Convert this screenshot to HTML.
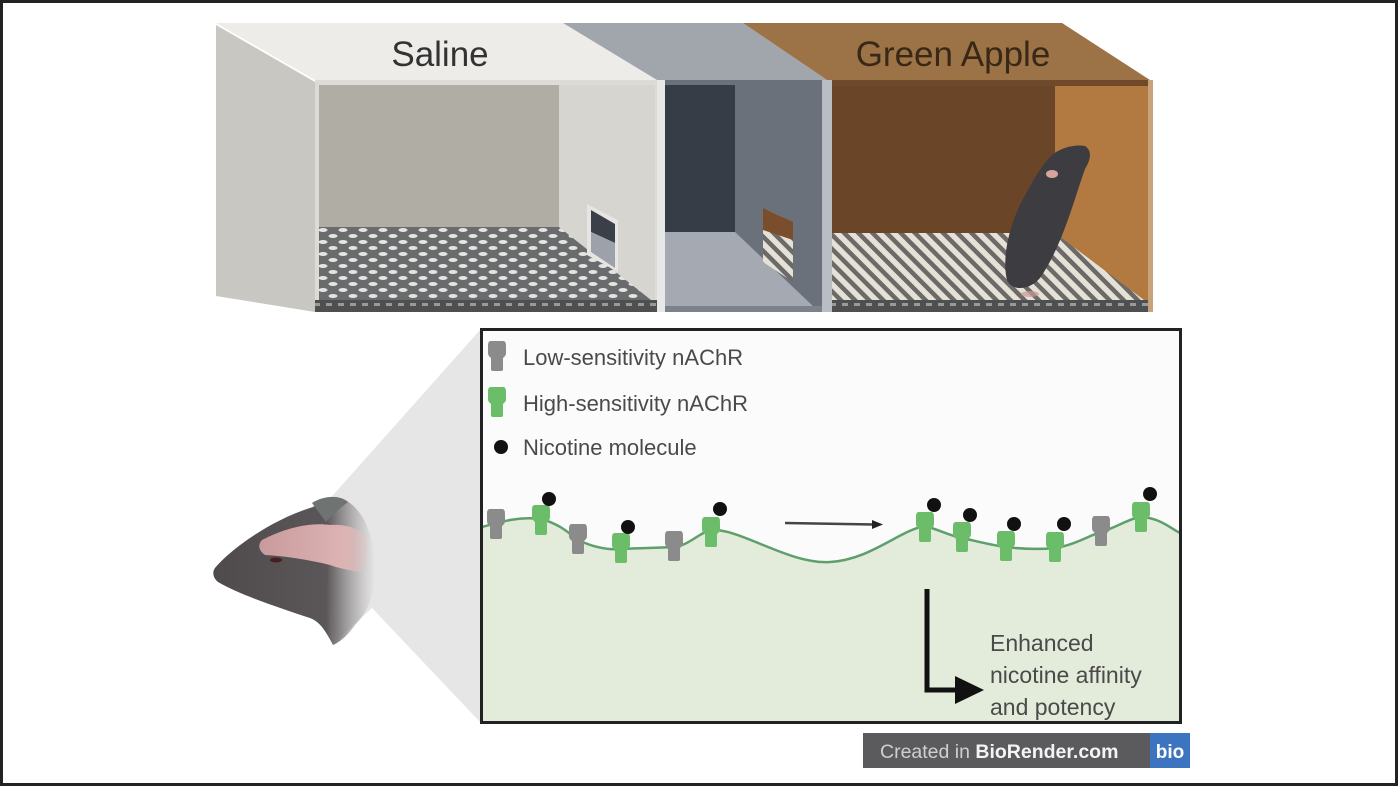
<!DOCTYPE html>
<html>
<head>
<meta charset="utf-8">
<style>
html,body{margin:0;padding:0;background:#fff;}
svg{display:block;}
text{font-family:"Liberation Sans",Arial,sans-serif;}
</style>
</head>
<body>
<svg width="1400" height="788" viewBox="0 0 1400 788" xmlns="http://www.w3.org/2000/svg">
<defs>
  <pattern id="dots" x="318" y="227" width="20" height="12" patternUnits="userSpaceOnUse">
    <rect width="20" height="12" fill="#6a6b6c"/>
    <ellipse cx="5" cy="3" rx="4.5" ry="2" fill="#e4e4e2"/>
    <ellipse cx="15" cy="9" rx="4.5" ry="2" fill="#e4e4e2"/>
  </pattern>
  <pattern id="stripes" x="0" y="0" width="10" height="10" patternUnits="userSpaceOnUse" patternTransform="rotate(-45)">
    <rect width="10" height="10" fill="#e6e1d6"/>
    <rect width="4.5" height="10" fill="#6c6a68"/>
  </pattern>
  <pattern id="checker" x="0" y="300" width="12" height="12" patternUnits="userSpaceOnUse">
    <rect width="12" height="12" fill="#4e4f51"/>
    <rect x="2" y="3" width="6" height="3" fill="#9a9a98"/>
  </pattern>
  <linearGradient id="fadeHead" x1="0" y1="0" x2="1" y2="0">
    <stop offset="0" stop-color="#4f4a4c"/>
    <stop offset="0.7" stop-color="#5b5658"/>
    <stop offset="1" stop-color="#8a8688" stop-opacity="0"/>
  </linearGradient>
  <linearGradient id="pinkFade" x1="0" y1="0" x2="1" y2="0">
    <stop offset="0" stop-color="#c99a9c"/>
    <stop offset="0.8" stop-color="#ddb4b4"/>
    <stop offset="1" stop-color="#e8c6c6" stop-opacity="0.3"/>
  </linearGradient>
  <g id="rec">
    <path d="M-6,-15 C-9,-15 -9,-12 -9,-9 L-9,-3 C-9,0 -7,1 -6,2 L-6,13 C-6,15 -5,15 -3,15 L3,15 C5,15 6,15 6,13 L6,2 C7,1 9,0 9,-3 L9,-9 C9,-12 9,-15 6,-15 Z"/>
  </g>
</defs>

<rect x="0" y="0" width="1400" height="788" fill="#fff"/>

<!-- ================= CHAMBER ================= -->
<polygon points="216,25 315,82 315,312 216,296" fill="#c8c7c2"/>
<polygon points="216,23 563,23 657,80 315,80" fill="#edece8"/>
<polygon points="563,23 743,23 827,80 657,80" fill="#a1a5ac"/>
<polygon points="743,23 1062,23 1150,80 827,80" fill="#9c7247"/>
<polygon points="827,80 1150,80 1150,86 832,86" fill="#6e4a2a"/>

<rect x="315" y="80" width="343" height="232" fill="#dcdbd6"/>
<rect x="319" y="85" width="240" height="142" fill="#b0ada5"/>
<polygon points="559,85 655,85 655,303 559,227" fill="#d7d5d0"/>
<polygon points="319,227 559,227 651,300 319,300" fill="url(#dots)"/>
<rect x="315" y="300" width="342" height="12" fill="url(#checker)"/>
<polygon points="587,204 618,220 618,272 587,255" fill="#e6e5e1"/>
<polygon points="591,210 615,224 615,243 591,232" fill="#3a3f48"/>
<polygon points="591,232 615,243 615,268 591,252" fill="#9da1a9"/>

<rect x="657" y="80" width="8" height="232" fill="#e8e8e6"/>
<rect x="665" y="80" width="160" height="232" fill="#6b717a"/>
<rect x="665" y="85" width="70" height="147" fill="#373d47"/>
<polygon points="665,232 735,232 815,308 665,308" fill="#a5a9b1"/>
<rect x="665" y="306" width="160" height="6" fill="#7d828a"/>
<polygon points="763,208 793,222 793,282 763,262" fill="url(#stripes)"/>
<polygon points="763,208 793,222 793,240 763,230" fill="#7a4e2c"/>
<rect x="822" y="80" width="10" height="232" fill="#b9bdc4"/>

<rect x="832" y="86" width="318" height="226" fill="#b27a40"/>
<rect x="832" y="86" width="223" height="147" fill="#6a4527"/>
<polygon points="832,233 1055,233 1148,303 832,303" fill="url(#stripes)"/>
<rect x="832" y="300" width="320" height="12" fill="url(#checker)"/>
<rect x="1148" y="80" width="5" height="232" fill="#c7a27a"/>
<!-- mouse -->
<path d="M1007,280 C1002,260 1008,230 1020,205 C1030,185 1040,168 1050,157 C1058,149 1072,144 1085,146 C1093,151 1090,161 1085,169 C1081,180 1077,193 1073,205 C1064,232 1054,258 1040,278 C1030,290 1012,292 1007,280Z" fill="#3c3c41"/>
<ellipse cx="1052" cy="174" rx="6" ry="4" fill="#d8a4a0"/>
<ellipse cx="1030" cy="294" rx="9" ry="3" fill="#c99a98" opacity="0.7"/>

<!-- ================= LOWER ================= -->
<polygon points="318,512 480,330 480,722 372,608 335,642" fill="#e6e6e6"/>

<!-- mouse head -->
<path d="M215,568 C230,550 270,520 313,507 C325,498 340,496 350,503 C362,512 372,530 375,560 C376,590 370,610 355,625 C348,635 340,642 333,645 C325,630 320,622 310,618 C280,608 240,595 218,582 C213,578 212,572 215,568Z" fill="url(#fadeHead)"/>
<path d="M312,503 C322,496 340,494 348,502 C340,508 332,515 326,522 C320,514 316,508 312,503Z" fill="#6f7472"/>
<path d="M262,540 C285,528 310,522 330,525 C345,524 358,528 365,535 C370,550 368,565 360,572 C348,570 338,568 330,565 C310,560 285,556 265,555 C258,550 258,544 262,540Z" fill="url(#pinkFade)"/>
<ellipse cx="276" cy="560" rx="6" ry="2.5" fill="#4a1e1e"/>

<!-- main box -->
<rect x="481.5" y="329.5" width="699" height="393" fill="#fbfbfb"/>
<path d="M482,527 C500,522 520,516 541,519 C560,524 570,534 578,540 C595,548 610,550 621,549 C640,548 655,548 674,547 C690,545 700,532 711,530 C740,528 790,565 830,562 C870,560 900,530 925,526 C940,530 950,536 962,538 C980,542 995,546 1006,547 C1030,550 1045,549 1055,548 C1075,545 1090,535 1101,532 C1115,528 1130,518 1141,517 C1160,518 1170,528 1180,533 L1180,722 L482,722 Z" fill="#e3ecda"/>
<path d="M482,527 C500,522 520,516 541,519 C560,524 570,534 578,540 C595,548 610,550 621,549 C640,548 655,548 674,547 C690,545 700,532 711,530 C740,528 790,565 830,562 C870,560 900,530 925,526 C940,530 950,536 962,538 C980,542 995,546 1006,547 C1030,550 1045,549 1055,548 C1075,545 1090,535 1101,532 C1115,528 1130,518 1141,517 C1160,518 1170,528 1180,533" fill="none" stroke="#5f9f6c" stroke-width="2.5"/>
<rect x="481.5" y="329.5" width="699" height="393" fill="none" stroke="#222" stroke-width="3"/>

<!-- legend -->
<use href="#rec" x="497" y="356" fill="#8b8b8b"/>
<use href="#rec" x="497" y="402" fill="#6cbd6a"/>
<circle cx="501" cy="447" r="7" fill="#111"/>
<text x="523" y="365" font-size="22" fill="#4a4a4a">Low-sensitivity nAChR</text>
<text x="523" y="411" font-size="22" fill="#4a4a4a">High-sensitivity nAChR</text>
<text x="523" y="455" font-size="22" fill="#4a4a4a">Nicotine molecule</text>

<g fill="#8b8b8b">
  <use href="#rec" x="496" y="524"/>
  <use href="#rec" x="578" y="539"/>
  <use href="#rec" x="674" y="546"/>
  <use href="#rec" x="1101" y="531"/>
</g>
<g fill="#6cbd6a">
  <use href="#rec" x="541" y="520"/>
  <use href="#rec" x="621" y="548"/>
  <use href="#rec" x="711" y="532"/>
  <use href="#rec" x="925" y="527"/>
  <use href="#rec" x="962" y="537"/>
  <use href="#rec" x="1006" y="546"/>
  <use href="#rec" x="1055" y="547"/>
  <use href="#rec" x="1141" y="517"/>
</g>
<g fill="#111">
  <circle cx="549" cy="499" r="7"/>
  <circle cx="628" cy="527" r="7"/>
  <circle cx="720" cy="509" r="7"/>
  <circle cx="934" cy="505" r="7"/>
  <circle cx="970" cy="515" r="7"/>
  <circle cx="1014" cy="524" r="7"/>
  <circle cx="1064" cy="524" r="7"/>
  <circle cx="1150" cy="494" r="7"/>
</g>

<line x1="785" y1="523" x2="874" y2="524.5" stroke="#444" stroke-width="2.5"/>
<polygon points="872,520 883,524.5 872,529" fill="#222"/>

<path d="M927,589 L927,690 L962,690" fill="none" stroke="#111" stroke-width="5"/>
<polygon points="955,676 984,690 955,704" fill="#111"/>
<text x="990" y="651" font-size="23" fill="#4a4a4a">Enhanced</text>
<text x="990" y="683" font-size="23" fill="#4a4a4a">nicotine affinity</text>
<text x="990" y="715" font-size="23" fill="#4a4a4a">and potency</text>

<rect x="863" y="733" width="327" height="35" fill="#5b5b5d"/>
<rect x="1150" y="733" width="40" height="35" fill="#3d74c0"/>
<text x="880" y="758" font-size="19.5" fill="#cfcfcf">Created in <tspan font-weight="bold" fill="#f4f4f4">BioRender.com</tspan></text>
<text x="1170" y="758" font-size="19" font-weight="bold" fill="#fff" text-anchor="middle">bio</text>

<text x="440" y="66" font-size="35" fill="#333" text-anchor="middle">Saline</text>
<text x="953" y="66" font-size="35" fill="#3a2816" text-anchor="middle">Green Apple</text>

<rect x="1.5" y="1.5" width="1395" height="783" fill="none" stroke="#222" stroke-width="3"/>
</svg>
</body>
</html>
